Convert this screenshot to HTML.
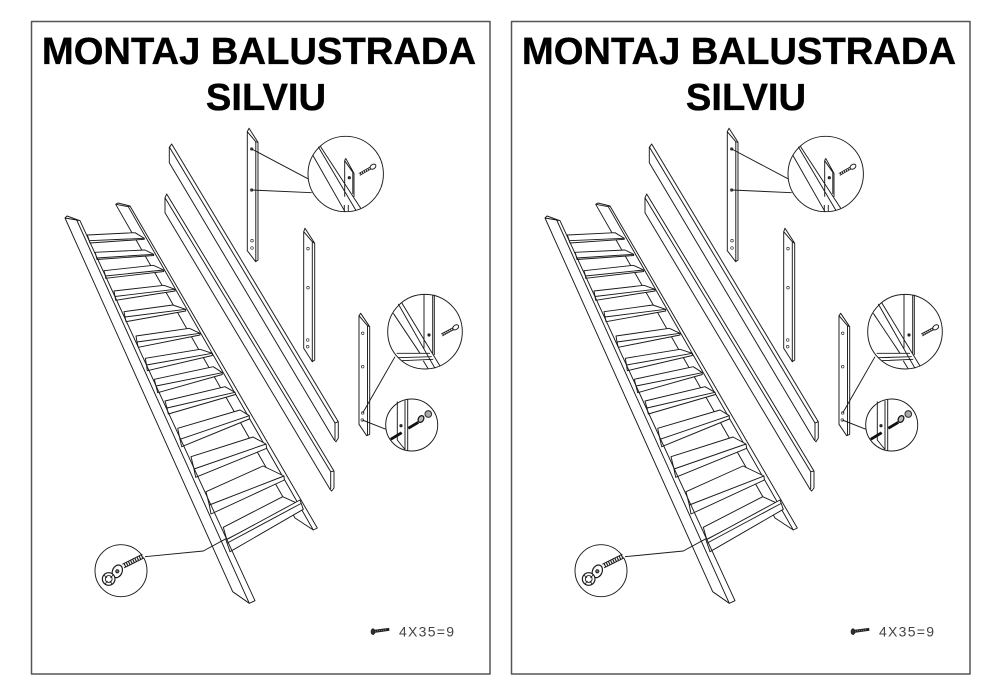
<!DOCTYPE html>
<html><head><meta charset="utf-8"><style>
html,body{margin:0;padding:0;background:#fff}
svg{display:block}
text{font-family:"Liberation Sans",sans-serif}
.t{font-size:38.2px;font-weight:700;fill:#000;stroke:#000;stroke-width:.35;text-anchor:middle}
.n{font-size:14px;fill:#444}
</style></head><body>
<svg width="988" height="700" viewBox="0 0 988 700" xmlns="http://www.w3.org/2000/svg">
<defs>
<g id="art" fill="none" stroke="#1a1a1a" stroke-width=".95" stroke-linejoin="round">
<rect x="31.5" y="21.5" width="458.5" height="652.5" stroke="#555" stroke-width="1.5"/>
<!-- stair -->
<path d="M115.7 204.3L295 518L313.3 530L317.3 528L130 206L118 203Z M115.7 204.3L128.3 206.7L130 206 M128.3 206.7L313.3 530" fill="#fff"/>
<g fill="#fff">
<path d="M87.3 235L135 232.7L144.3 238.3V239.3L90 243L89.3 240.7ZM89.3 240.7L144.3 238.3"/>
<path d="M95 252.3L145 250L153.7 254.3V255.5L97 259.5L96.7 258ZM96.7 258L153.7 254.3"/>
<path d="M104 270.7L153.3 265.3L163.7 270V271.5L105.7 278.3L105.5 276ZM105.5 276L163.7 270"/>
<path d="M114 291L164 285.3L175 289.3V291L115.7 300.3L115 296.5ZM115 296.5L175 289.3"/>
<path d="M124 311.7L172.7 305L185.7 309.3V311L126 321.7L125 317ZM125 317L185.7 309.3"/>
<path d="M136 336L189.3 328.3L200 333.3V335L138.3 347.3L137 342ZM137 342L200 333.3"/>
<path d="M145.3 358.3L200 349.3L212.3 353.3V355.5L147.3 370.7L146.5 365ZM146.5 365L212.3 353.3"/>
<path d="M154.3 379.3L213.3 366.7L222.3 372.7V374.5L157.7 392.7L156 386ZM156 386L222.3 372.7"/>
<path d="M165 401L225 386.7L235 392.3L235.5 394.5L168.3 414L167 408ZM167 408L235 392.3"/>
<path d="M177.7 428.3L240 410L249.3 415.7V419L181.7 446.7L180 439.3ZM180 439.3L249.3 415.7"/>
<path d="M191 456.7L253 437L266 444L266.7 448.3L195.7 477.3L194 469ZM194 469L266 444"/>
<path d="M206 491.7L263 466L284 476L284.3 480L211 514L209.3 505ZM209.3 505L284 476"/>
<path d="M223.3 527.3L282.7 496.7L297.3 503.3L226.7 539.3Z"/>
<path d="M226 540L300 500L303.3 509.3L230 551.7ZM227.3 543L301 503.5"/>
</g>
<path d="M65 218L232.7 591.7L249.3 603.3L255 600.7L80 220.7L67 216Z M65 218L76.7 220L80 220.7 M76.7 220L249.3 603.3" fill="none"/>
<!-- rails -->
<path d="M171.7 144L338.3 421.7V438L336 441.7L334.3 440L169.3 162.7V147.3Z M169.5 147.3L335 423V440 M171.7 144L169.5 147.3 M335 423L338.3 421.7"/>
<path d="M166.7 194L334 471V488L331.7 491L330 489.3L165 212.7V197.7Z M165 197.7L330.7 471.7V489 M330.7 471.7L334 471"/>
<!-- post A -->
<path d="M249 128.3L247.3 131.7V250.7L255.7 261.7L258 260V142.3Z M247.3 131.7L255.8 141.7V261 M255.8 141.7L258 142.3"/>
<!-- post B -->
<path d="M305 228.3L303.7 231.7V348.3L312.3 361.7L314.7 360V243.3Z M303.7 231.7L312.3 241.7V361 M312.3 241.7L314.7 243.3"/>
<!-- post C -->
<path d="M360.7 313.3L359 315.7V424.3L366.7 435.7L369.7 434.3V326.7Z M359 315.7L367.5 325.7V435 M367.5 325.7L369.7 326.7"/>
<!-- holes -->
<g fill="#444" stroke="#333" stroke-width=".6">
<circle cx="251.7" cy="149" r="1.3"/><circle cx="251.7" cy="190" r="1.3"/>
</g>
<g stroke="#333" stroke-width=".7">
<circle cx="252" cy="240.7" r="1.3"/><circle cx="252" cy="248" r="1.3"/>
<circle cx="308" cy="248.7" r="1.3"/><circle cx="308" cy="287.7" r="1.3"/><circle cx="307.7" cy="340" r="1.3"/><circle cx="307.7" cy="346.7" r="1.3"/>
<circle cx="362.7" cy="333.3" r="1.3"/><circle cx="362.7" cy="366.7" r="1.3"/><circle cx="362.7" cy="413" r="1.3"/><circle cx="362.3" cy="420" r="1.3"/>
</g>
<!-- leaders -->
<path d="M251.7 149L309 179.3M251.7 190L311.7 192.7M395 356.7L362.7 413M362.3 420L386 429.3M145 556.7L203.3 551L226.7 538.3"/>
<!-- circle 1 -->
<circle cx="345.7" cy="174" r="37.7" fill="#fff"/>
<path d="M320 145.7L360.7 208.3M318.3 146.7L355.7 210M312.7 155L345 211.7M345.7 158.3L344.7 160.7V196.7M345.7 158.3L354 173.3V196.7M344.7 160.7L352.8 172.3V194M344.3 205V211.5M348.3 211V205"/>
<circle cx="349.3" cy="177.7" r="1.1" fill="#444"/>
<path d="M359.3 174.5L370.5 168" stroke-width="3" stroke="#222"/>
<path d="M359.3 174.5L370.5 168" stroke-width="1.5" stroke="#fff" stroke-dasharray="1 1.2"/>
<ellipse cx="373" cy="166.7" rx="3.2" ry="2.2" fill="#fff" transform="rotate(-35 373 166.7)"/>
<!-- circle 2 -->
<circle cx="425" cy="331.7" r="37.3" fill="#fff"/>
<path d="M424 294.7V348.3M432.7 294.7V353M434.3 294.7V355M401.7 302.7L440 366M398.3 304L435 368.3M393.3 313.3L420 353.3M396.7 353.3H430M398.3 357.7L431.7 356.7M401.7 360.7L433.3 359.3M423.3 360.7L428.3 369"/>
<circle cx="429" cy="335" r="1.1" fill="#444"/>
<path d="M441.7 335L453.3 328.7" stroke-width="3" stroke="#222"/>
<path d="M441.7 335L453.3 328.7" stroke-width="1.5" stroke="#fff" stroke-dasharray="1 1.2"/>
<ellipse cx="455.7" cy="327.3" rx="3.2" ry="2.2" fill="#fff" transform="rotate(-35 455.7 327.3)"/>
<!-- circle 3 -->
<circle cx="411.7" cy="425" r="26" fill="#fff"/>
<path d="M397.3 401.5V440L405 449.5M405 400.5V449.5M407.7 399.5V450.5"/>
<circle cx="401" cy="425.7" r="1.1" fill="#444"/>
<path d="M390.7 439.3L401.7 432.7M408.3 428.3L418.3 422.3" stroke-width="2.8" stroke="#111"/>
<ellipse cx="421" cy="419" rx="2.6" ry="3.6" fill="#bbb" stroke-width="1.3" transform="rotate(30 421 419)"/>
<circle cx="428.3" cy="414" r="3.3" fill="#aaa" stroke-width="1.1" stroke="#333"/>
<!-- circle 4 -->
<circle cx="121" cy="570.7" r="26" fill="#fff"/>
<path d="M123.3 566L143.3 556" stroke="#222" stroke-width="5"/>
<path d="M123.3 566L143.3 556" stroke="#fff" stroke-width="3" stroke-dasharray="1.2 1.2"/>
<ellipse cx="117.3" cy="571.3" rx="4.8" ry="6.6" fill="#fff" stroke-width="1.2" transform="rotate(25 117.3 571.3)"/>
<circle cx="117.3" cy="571.3" r="1.6" fill="#777"/>
<circle cx="108.7" cy="579" r="6.3" fill="#fff" stroke-width="1.2"/>
<circle cx="108.7" cy="579" r="3.4" fill="#fff" stroke-width=".9"/>
<path d="M104 575L107 578M113 575L110.5 578M105 584L107.5 581M112 584L110 581" stroke-width=".8"/>
<!-- legend screw -->
<path d="M374 631.4L389.3 629.3" stroke="#222" stroke-width="3"/>
<path d="M375 631.3L387 629.6" stroke="#888" stroke-width=".9" stroke-dasharray="1 1"/>
<ellipse cx="373" cy="631.7" rx="1.8" ry="2.8" fill="#333"/>
</g>
</defs>
<use href="#art"/>
<use href="#art" x="480"/>
<text class="t" x="259" y="64">MONTAJ BALUSTRADA</text>
<text class="t" x="266" y="110">SILVIU</text>
<text class="n" x="399" y="636.5" textLength="55" lengthAdjust="spacing">4X35=9</text>
<text class="t" x="739" y="64">MONTAJ BALUSTRADA</text>
<text class="t" x="746" y="110">SILVIU</text>
<text class="n" x="879" y="636.5" textLength="55" lengthAdjust="spacing">4X35=9</text>
</svg>
</body></html>
